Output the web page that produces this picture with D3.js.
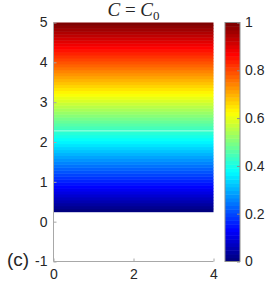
<!DOCTYPE html>
<html>
<head>
<meta charset="utf-8">
<script src="https://d3js.org/d3.v7.min.js"></script>
<style>
  body { margin: 0; background: #fff; }
  svg text { font-family: "Liberation Sans", Arial, sans-serif; fill: #262626; }
</style>
</head>
<body>
<div id="chart"></div>
<script>
// data
let xTicks = [0, 2, 4];
let yTicks = [-1, 0, 1, 2, 3, 4, 5];
let cTicks = [0, 0.2, 0.4, 0.6, 0.8, 1];
let fieldX = [0, 4];          // filled region, x extent
let fieldY = [0.25, 5];       // filled region, y extent (C=0 at bottom, C=1 at top)
let fieldC = [0, 1];
let seamY = 2.28;             // faint light seam across the field
let nLevels = 64;

function jet(t) {
    let c = v => Math.max(0, Math.min(1, v));
    return d3.rgb(255 * c(1.5 - Math.abs(4 * t - 3)),
                  255 * c(1.5 - Math.abs(4 * t - 2)),
                  255 * c(1.5 - Math.abs(4 * t - 1)));
}

// plain hyphen minus, as in the picture
let numFmt = d => String(d);

let WIDTH = 266, HEIGHT = 286;
let AXIS = "#a8a8a8";

let x = d3.scaleLinear().domain([0, 4]).range([53.5, 213.5]);
let y = d3.scaleLinear().domain([-1, 5]).range([261.5, 22.5]);
let cToY = d3.scaleLinear().domain(fieldC).range(fieldY);
let cb = d3.scaleLinear().domain([0, 1]).range([261.5, 22.5]);

let svg = d3.select("#chart").append("svg")
    .attr("width", WIDTH).attr("height", HEIGHT);

// field, drawn as discrete colormap bands
let levels = d3.range(nLevels);
svg.append("g").selectAll("rect")
    .data(levels)
    .enter().append("rect")
    .attr("x", x(fieldX[0]))
    .attr("width", x(fieldX[1]) - x(fieldX[0]))
    .attr("y", k => y(cToY((k + 1) / nLevels)))
    .attr("height", k => y(cToY(k / nLevels)) - y(cToY((k + 1) / nLevels)) + 0.5)
    .attr("fill", k => jet(k / (nLevels - 1)));

svg.append("line")
    .attr("x1", x(fieldX[0])).attr("x2", x(fieldX[1]))
    .attr("y1", y(seamY)).attr("y2", y(seamY))
    .attr("stroke", "#ffffff").attr("stroke-opacity", 0.55).attr("stroke-width", 1);

// axes
let xAxis = d3.axisBottom(x).tickValues(xTicks).tickSize(-3).tickPadding(8)
    .tickFormat(numFmt);
let gx = svg.append("g").attr("transform", `translate(0,${y(-1)})`).call(xAxis);
let yAxis = d3.axisLeft(y).tickValues(yTicks).tickSize(-3).tickPadding(6)
    .tickFormat(numFmt);
let gy = svg.append("g").attr("transform", `translate(${x(0)},0)`).call(yAxis);

[gx, gy].forEach(g => {
    g.select(".domain").attr("stroke", AXIS);
    g.selectAll(".tick line").attr("stroke", AXIS);
    g.selectAll("text").style("font-size", "14px").attr("fill", "#262626");
});
gx.select(".domain").attr("d", `M${x(0)},0H${x(4)}`);
gy.select(".domain").attr("d", `M0,${y(-1)}V${y(5)}`);

// colorbar
let cbX = 225, cbW = 15;
svg.append("g").selectAll("rect")
    .data(levels)
    .enter().append("rect")
    .attr("x", cbX).attr("width", cbW)
    .attr("y", k => cb((k + 1) / nLevels))
    .attr("height", k => cb(k / nLevels) - cb((k + 1) / nLevels) + 0.5)
    .attr("fill", k => jet(k / (nLevels - 1)));
svg.append("rect")
    .attr("x", cbX).attr("y", cb(1)).attr("width", cbW).attr("height", cb(0) - cb(1))
    .attr("fill", "none").attr("stroke", "#8c8c8c").attr("stroke-width", 1);

let cAxis = d3.axisRight(cb).tickValues(cTicks).tickSize(-3).tickPadding(5)
    .tickFormat(numFmt);
let gc = svg.append("g").attr("transform", `translate(${cbX + cbW},0)`).call(cAxis);
gc.select(".domain").remove();
gc.selectAll(".tick line").attr("stroke", "#8c8c8c");
gc.selectAll("text").style("font-size", "14px").attr("fill", "#262626");

// title  C = C0
let title = svg.append("text")
    .attr("x", (x(0) + x(4)) / 2).attr("y", 16)
    .attr("text-anchor", "middle")
    .style("font-family", "'Liberation Serif', 'Times New Roman', serif")
    .style("font-size", "19px").attr("fill", "#000");
title.append("tspan").style("font-style", "italic").text("C");
title.append("tspan").text(" = ");
title.append("tspan").style("font-style", "italic").text("C");
title.append("tspan").attr("dy", 4).style("font-size", "13px").text("0");

// panel label
svg.append("text")
    .attr("x", 7).attr("y", 266)
    .style("font-size", "19px").attr("fill", "#000")
    .text("(c)");
</script>
</body>
</html>
